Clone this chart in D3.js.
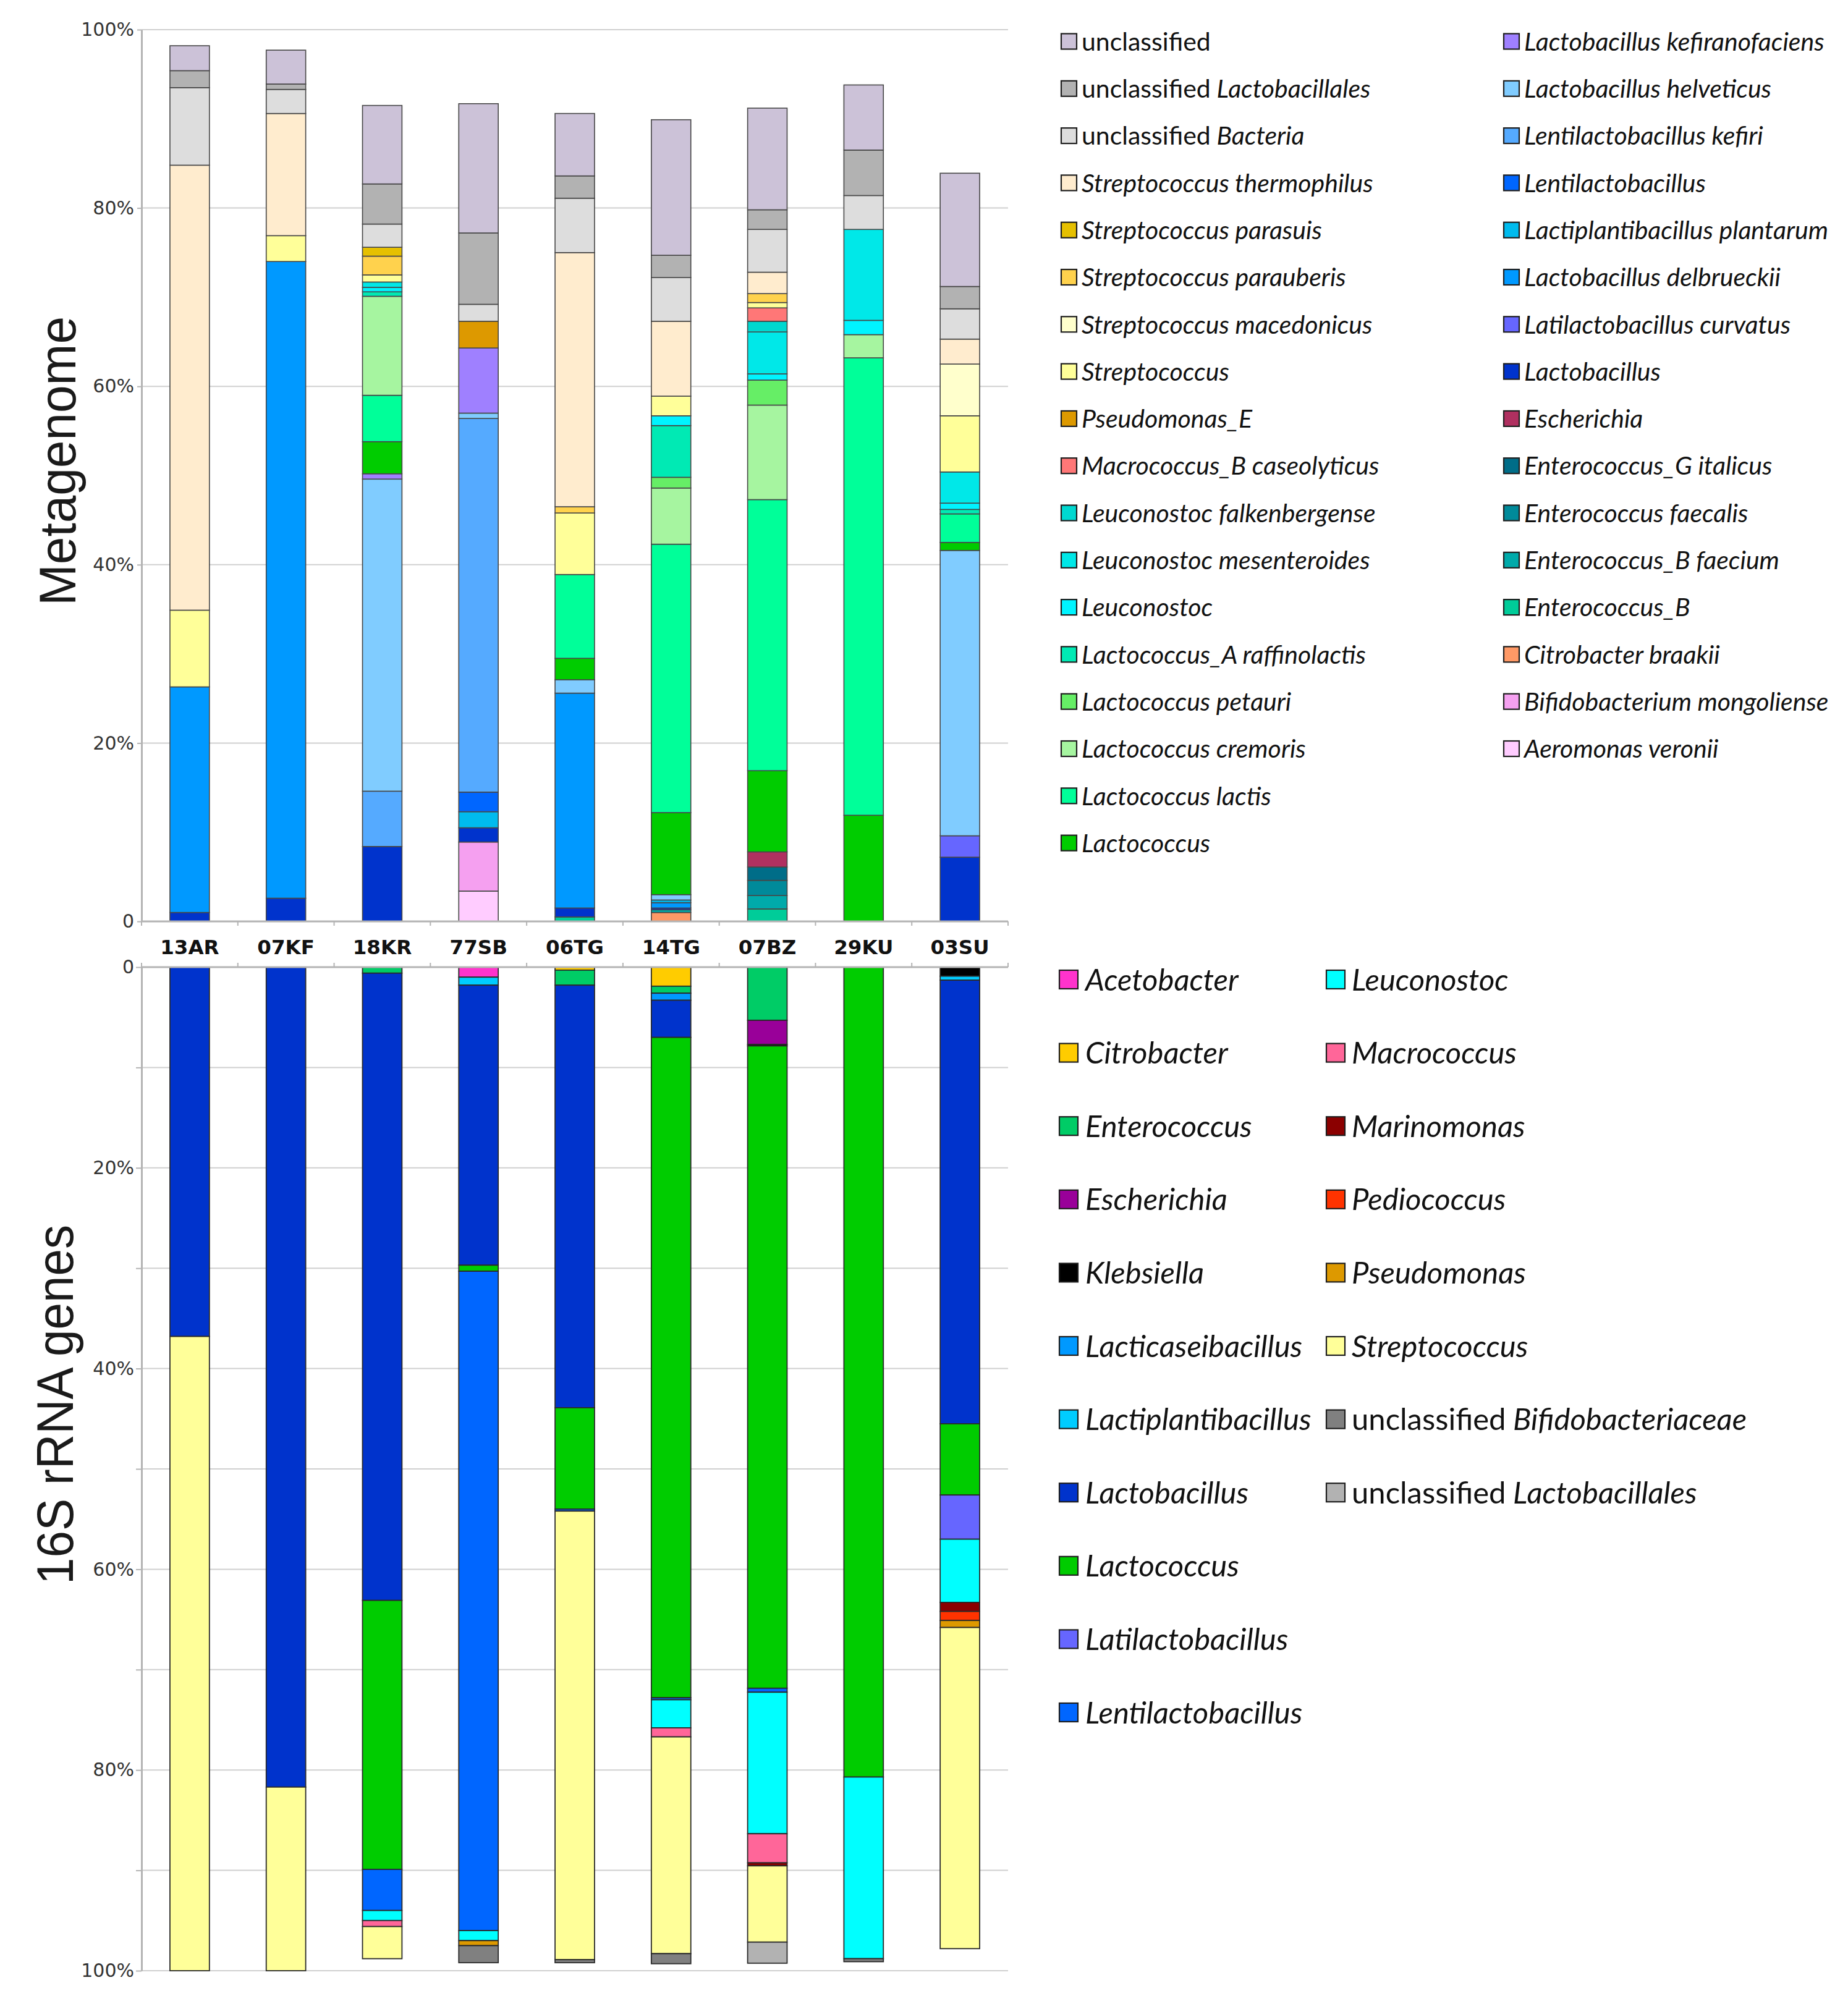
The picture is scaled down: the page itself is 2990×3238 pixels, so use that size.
<!DOCTYPE html>
<html><head><meta charset="utf-8">
<script src="https://cdn.jsdelivr.net/npm/d3@7/dist/d3.min.js"></script>
<style>body{margin:0;background:#fff} svg{display:block}</style>
</head><body>
<svg id="c" width="2990" height="3238"></svg>
<script>
// ---------- DATA ----------
const samples = ["13AR","07KF","18KR","77SB","06TG","14TG","07BZ","29KU","03SU"];

// Metagenome taxa in legend order (column 1 then column 2); stacked bottom->top in reverse order
const metaTaxa = [
  "unclassified","unclassified Lactobacillales","unclassified Bacteria","Streptococcus thermophilus",
  "Streptococcus parasuis","Streptococcus parauberis","Streptococcus macedonicus","Streptococcus",
  "Pseudomonas_E","Macrococcus_B caseolyticus","Leuconostoc falkenbergense","Leuconostoc mesenteroides",
  "Leuconostoc","Lactococcus_A raffinolactis","Lactococcus petauri","Lactococcus cremoris",
  "Lactococcus lactis","Lactococcus",
  "Lactobacillus kefiranofaciens","Lactobacillus helveticus","Lentilactobacillus kefiri","Lentilactobacillus",
  "Lactiplantibacillus plantarum","Lactobacillus delbrueckii","Latilactobacillus curvatus","Lactobacillus",
  "Escherichia","Enterococcus_G italicus","Enterococcus faecalis","Enterococcus_B faecium",
  "Enterococcus_B","Citrobacter braakii","Bifidobacterium mongoliense","Aeromonas veronii"
];
const metaColors = [
  "#ccc2d8","#b2b2b2","#dddddd","#ffecce",
  "#e6c000","#ffd24d","#ffffcc","#ffff99",
  "#dd9900","#ff7777","#00d8d0","#00e8e8",
  "#00f4ff","#00eab4","#66ee66","#a6f5a0",
  "#00ff99","#00cc00",
  "#9f80ff","#80ccff","#55aaff","#0066ff",
  "#00bbee","#0099ff","#6666ff","#0033cc",
  "#b03060","#006d88","#008a9a","#00aaaa",
  "#00cc99","#ff9966","#f5a0f0","#ffccff"
];
// values (%) per taxon, one entry per sample in `samples` order
const metaValues = [
  [2.8, 3.8, 8.8, 14.5, 7.0, 15.2, 11.4, 7.3, 12.7],
  [1.9, 0.6, 4.5, 8.0, 2.5, 2.5, 2.2, 5.1, 2.5],
  [8.7, 2.7, 2.6, 1.9, 6.1, 4.9, 4.8, 3.8, 3.4],
  [49.9, 13.7, 0, 0, 28.5, 8.4, 2.4, 0, 2.8],
  [0, 0, 1.0, 0, 0, 0, 0, 0, 0],
  [0, 0, 2.1, 0, 0.7, 0, 1.0, 0, 0],
  [0, 0, 0, 0, 0, 0, 0, 0, 5.8],
  [8.6, 2.9, 0.8, 0, 6.9, 2.2, 0.6, 0, 6.3],
  [0, 0, 0, 3.0, 0, 0, 0, 0, 0],
  [0, 0, 0, 0, 0, 0, 1.5, 0, 0],
  [0, 0, 0, 0, 0, 0, 1.2, 0, 0],
  [0, 0, 0.6, 0, 0, 0, 4.7, 10.2, 3.5],
  [0, 0, 0.5, 0, 0, 1.1, 0.7, 1.6, 0.7],
  [0, 0, 0.5, 0, 0, 5.8, 0, 0, 0.5],
  [0, 0, 0, 0, 0, 1.2, 2.8, 0, 0],
  [0, 0, 11.1, 0, 0, 6.3, 10.6, 2.6, 0],
  [0, 0, 5.2, 0, 9.4, 30.1, 30.4, 51.3, 3.2],
  [0, 0, 3.6, 0, 2.4, 9.2, 9.1, 11.9, 0.9],
  [0, 0, 0.6, 7.3, 0, 0, 0, 0, 0],
  [0, 0, 35.0, 0.6, 1.5, 0.6, 0, 0, 32.0],
  [0, 0, 6.2, 41.9, 0, 0, 0, 0, 0],
  [0, 0, 0, 2.2, 0, 0, 0, 0, 0],
  [0, 0, 0, 1.8, 0, 0.3, 0, 0, 0],
  [25.3, 71.4, 0, 0, 24.1, 0.6, 0, 0, 0],
  [0, 0, 0, 0, 0, 0, 0, 0, 2.4],
  [1.0, 2.6, 8.4, 1.6, 1.0, 0.2, 0, 0, 7.2],
  [0, 0, 0, 0, 0, 0, 1.7, 0, 0],
  [0, 0, 0, 0, 0, 0, 1.5, 0, 0],
  [0, 0, 0, 0, 0, 0, 1.7, 0, 0],
  [0, 0, 0, 0, 0, 0.3, 1.5, 0, 0],
  [0, 0, 0, 0, 0.5, 0, 1.4, 0, 0],
  [0, 0, 0, 0, 0, 1.0, 0, 0, 0],
  [0, 0, 0, 5.5, 0, 0, 0, 0, 0],
  [0, 0, 0, 3.4, 0, 0, 0, 0, 0]
];

// 16S rRNA genera in legend order; stacked top->bottom in this order
const rrnaTaxa = [
  "Acetobacter","Citrobacter","Enterococcus","Escherichia","Klebsiella","Lacticaseibacillus",
  "Lactiplantibacillus","Lactobacillus","Lactococcus","Latilactobacillus","Lentilactobacillus",
  "Leuconostoc","Macrococcus","Marinomonas","Pediococcus","Pseudomonas","Streptococcus",
  "unclassified Bifidobacteriaceae","unclassified Lactobacillales"
];
const rrnaColors = [
  "#ff33cc","#ffcc00","#00cc66","#990099","#000000","#0099ff",
  "#00ccff","#0033cc","#00cc00","#6666ff","#0066ff",
  "#00ffff","#ff6699","#8b0000","#ff3300","#dd9900","#ffff99",
  "#808080","#b2b2b2"
];
const rrnaValues = [
  [0, 0, 0, 1.0, 0, 0, 0, 0, 0],
  [0, 0, 0, 0, 0.3, 1.9, 0, 0, 0],
  [0, 0, 0.6, 0, 1.5, 0.7, 5.3, 0, 0],
  [0, 0, 0, 0, 0, 0, 2.4, 0, 0],
  [0, 0, 0, 0, 0, 0, 0.15, 0, 0.9],
  [0, 0, 0, 0, 0, 0.7, 0, 0, 0],
  [0, 0, 0, 0.8, 0, 0, 0, 0, 0.4],
  [36.8, 81.7, 62.5, 27.9, 42.1, 3.7, 0, 0, 44.2],
  [0, 0, 26.8, 0.6, 10.1, 65.8, 64.0, 80.7, 7.1],
  [0, 0, 0, 0, 0, 0, 0, 0, 4.4],
  [0, 0, 4.1, 65.7, 0.2, 0.2, 0.4, 0, 0],
  [0, 0, 1.0, 1.0, 0, 2.8, 14.1, 18.1, 6.3],
  [0, 0, 0.6, 0, 0, 0.9, 2.9, 0, 0],
  [0, 0, 0, 0, 0, 0, 0.3, 0, 0.9],
  [0, 0, 0, 0, 0, 0, 0, 0, 0.9],
  [0, 0, 0, 0.5, 0, 0, 0, 0, 0.7],
  [63.2, 18.3, 3.2, 0, 44.7, 21.6, 7.6, 0, 32.0],
  [0, 0, 0, 1.7, 0.3, 1.0, 0, 0.3, 0],
  [0, 0, 0, 0, 0, 0, 2.1, 0, 0]
];

const topTicks = [0, 20, 40, 60, 80, 100];
const bottomTicks = [0, 10, 20, 30, 40, 50, 60, 70, 80, 90, 100];

// ---------- LAYOUT ----------
const svg = d3.select("#c");
const X0 = 229, X1 = 1631;
const x = d3.scaleBand().domain(samples).range([X0, X1]).paddingInner(0.59).paddingOuter(0.295);
const yTop = d3.scaleLinear().domain([0, 100]).range([1491, 48]);
const yBot = d3.scaleLinear().domain([0, 100]).range([1565, 3189]);
const axisColor = "#b4b4b4", gridColor = "#d0d0d0";
const tickFont = "'DejaVu Sans', Verdana, sans-serif";

function rows(values, taxa) {
  return samples.map((s, i) => {
    const o = { sample: s };
    taxa.forEach((t, j) => { o[t] = values[j][i]; });
    return o;
  });
}
const colorOf = (taxa, colors) => d3.scaleOrdinal().domain(taxa).range(colors);

// ---------- GRIDLINES ----------
svg.append("g").selectAll("line").data(topTicks.filter(d => d > 0)).join("line")
  .attr("x1", X0).attr("x2", X1).attr("y1", d => yTop(d)).attr("y2", d => yTop(d))
  .attr("stroke", gridColor).attr("stroke-width", 2);
svg.append("g").selectAll("line").data(bottomTicks.filter(d => d > 0)).join("line")
  .attr("x1", X0).attr("x2", X1).attr("y1", d => yBot(d)).attr("y2", d => yBot(d))
  .attr("stroke", gridColor).attr("stroke-width", 2);

// ---------- TOP STACKED BARS ----------
const metaKeys = metaTaxa.slice().reverse();
const metaStack = d3.stack().keys(metaKeys)(rows(metaValues, metaTaxa));
const metaColor = colorOf(metaTaxa, metaColors);
const gTop = svg.append("g");
metaStack.forEach(layer => {
  gTop.append("g").attr("fill", metaColor(layer.key))
    .selectAll("rect").data(layer.filter(d => d[1] - d[0] > 0)).join("rect")
    .attr("x", d => x(d.data.sample)).attr("width", x.bandwidth())
    .attr("y", d => yTop(d[1])).attr("height", d => yTop(d[0]) - yTop(d[1]))
    .attr("stroke", "#474747").attr("stroke-width", 1.6);
});

// ---------- BOTTOM STACKED BARS ----------
const rrnaStack = d3.stack().keys(rrnaTaxa)(rows(rrnaValues, rrnaTaxa));
const rrnaColor = colorOf(rrnaTaxa, rrnaColors);
const gBot = svg.append("g");
rrnaStack.forEach(layer => {
  gBot.append("g").attr("fill", rrnaColor(layer.key))
    .selectAll("rect").data(layer.filter(d => d[1] - d[0] > 0)).join("rect")
    .attr("x", d => x(d.data.sample)).attr("width", x.bandwidth())
    .attr("y", d => yBot(d[0])).attr("height", d => yBot(d[1]) - yBot(d[0]))
    .attr("stroke", "#2a2a2a").attr("stroke-width", 1.8);
});

// ---------- AXES ----------
function styleAxis(g) {
  g.select(".domain").attr("stroke", axisColor).attr("stroke-width", 3);
  g.selectAll(".tick line").attr("stroke", axisColor).attr("stroke-width", 2);
  g.selectAll(".tick text").attr("font-family", tickFont).attr("font-size", 30).attr("fill", "#333");
}
svg.append("g").attr("transform", `translate(${X0},0)`)
  .call(d3.axisLeft(yTop).tickValues(topTicks).tickFormat(d => d === 0 ? "0" : d + "%").tickSize(7).tickPadding(5).tickSizeOuter(0))
  .call(styleAxis);
svg.append("g").attr("transform", `translate(${X0},0)`)
  .call(d3.axisLeft(yBot).tickValues(bottomTicks).tickFormat(d => d % 20 === 0 ? (d === 0 ? "0" : d + "%") : "").tickSize(9).tickPadding(3).tickSizeOuter(0))
  .call(styleAxis);

// category axes (boundary ticks)
const bounds = d3.range(samples.length + 1).map(i => X0 + i * x.step());
const gx = svg.append("g");
gx.append("line").attr("x1", X0).attr("x2", X1).attr("y1", yTop(0)).attr("y2", yTop(0))
  .attr("stroke", axisColor).attr("stroke-width", 3);
gx.append("line").attr("x1", X0).attr("x2", X1).attr("y1", yBot(0)).attr("y2", yBot(0))
  .attr("stroke", axisColor).attr("stroke-width", 3);
gx.selectAll(".tt").data(bounds).join("line").attr("class", "tt")
  .attr("x1", d => d).attr("x2", d => d).attr("y1", yTop(0)).attr("y2", yTop(0) + 7)
  .attr("stroke", axisColor).attr("stroke-width", 2);
gx.selectAll(".tb").data(bounds).join("line").attr("class", "tb")
  .attr("x1", d => d).attr("x2", d => d).attr("y1", yBot(0) - 7).attr("y2", yBot(0))
  .attr("stroke", axisColor).attr("stroke-width", 2);
gx.selectAll("text").data(samples).join("text")
  .attr("x", d => x(d) + x.bandwidth() / 2).attr("y", 1544)
  .attr("text-anchor", "middle").attr("font-family", tickFont).attr("font-weight", "bold")
  .attr("font-size", 32.5).attr("fill", "#111").text(d => d);

// ---------- AXIS TITLES ----------
svg.append("text").attr("transform", "translate(122,746) rotate(-90)")
  .attr("text-anchor", "middle").attr("font-family", "'Liberation Sans', Arial, sans-serif")
  .attr("font-size", 84).attr("fill", "#1a1a1a")
  .attr("textLength", 468).attr("lengthAdjust", "spacingAndGlyphs").text("Metagenome");
svg.append("text").attr("transform", "translate(118,2273) rotate(-90)")
  .attr("text-anchor", "middle").attr("font-family", "'Liberation Sans', Arial, sans-serif")
  .attr("font-size", 84).attr("fill", "#1a1a1a")
  .attr("textLength", 582).attr("lengthAdjust", "spacingAndGlyphs").text("16S rRNA genes");

// ---------- LEGENDS ----------
function legendLabel(sel, name) {
  if (name.startsWith("unclassified")) {
    sel.append("tspan").attr("font-style", "normal").text("unclassified");
    const rest = name.slice("unclassified".length).trim();
    if (rest) sel.append("tspan").attr("font-style", "italic").text(" " + rest);
  } else {
    sel.append("tspan").attr("font-style", "italic").text(name);
  }
}
function drawLegend(items, color, cfg) {
  const g = svg.append("g");
  items.forEach((name, i) => {
    const col = i < cfg.perCol ? 0 : 1;
    const row = col === 0 ? i : i - cfg.perCol;
    const cy = cfg.y0 + row * cfg.dy;
    const sx = cfg.sx[col];
    g.append("rect").attr("x", sx).attr("y", cy - cfg.size / 2)
      .attr("width", cfg.size).attr("height", cfg.size)
      .attr("fill", color(name)).attr("stroke", "#1e1e1e").attr("stroke-width", 2.2);
    const t = g.append("text").attr("x", cfg.tx[col]).attr("y", cy + cfg.fs * 0.36)
      .attr("font-family", "Lato, 'Open Sans', sans-serif").attr("font-size", cfg.fs).attr("fill", "#111");
    legendLabel(t, name);
  });
}
drawLegend(metaTaxa, metaColor, { perCol: 18, y0: 67, dy: 76.3, size: 25, sx: [1717, 2433], tx: [1750, 2466], fs: 41 });
drawLegend(rrnaTaxa, rrnaColor, { perCol: 11, y0: 1585, dy: 118.6, size: 30, sx: [1714, 2146], tx: [1756, 2187], fs: 49 });
</script>
</body></html>
